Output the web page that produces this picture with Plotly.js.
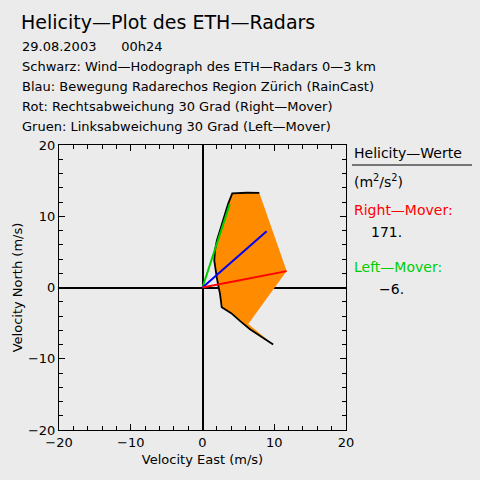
<!DOCTYPE html>
<html>
<head>
<meta charset="utf-8">
<script src="https://cdn.plot.ly/plotly-3.0.1.min.js"></script>
<style>html,body{margin:0;padding:0;background:rgb(235,235,235);}#chart{width:480px;height:480px;}</style>
</head>
<body>
<div id="chart"></div>
<script>
// Wind hodograph 0-3 km (m/s), traced from the top end to the lower end
const hodoU = [7.92, 6.2, 4.15, 3.83, 3.6, 3.37, 2.9, 2.4, 2.0, 1.74, 1.64, 1.74, 1.98, 2.2, 2.44, 2.68, 4.0, 5.3, 6.62, 8.47, 9.85];
const hodoV = [13.28, 13.3, 13.2, 12.5, 11.8, 11.1, 9.7, 7.9, 6.6, 5.2, 3.8, 2.86, 1.45, 0.28, -0.89, -2.77, -3.6, -4.75, -5.85, -7.08, -8.0];
// Storm motion vectors (m/s)
const meanMotion = [8.94, 7.89];   // Blau: RainCast
const rightMover = [11.73, 2.3];   // Rot
const leftMover = [3.8, 11.7];     // Gruen
// break point of the helicity area at the lower branch
const areaBreak = [6.38, -5.11];
// Helicity values (m2/s2)
const heliRight = 171;
const heliLeft = -6;

const titleText = "Helicity—Plot des ETH—Radars";
const infoLines = [
  "29.08.2003\u00a0\u00a0\u00a0\u00a0\u00a0\u00a000h24",
  "Schwarz: Wind—Hodograph des ETH—Radars 0—3 km",
  "Blau: Bewegung Radarechos Region Zürich (RainCast)",
  "Rot: Rechtsabweichung 30 Grad (Right—Mover)",
  "Gruen: Linksabweichung 30 Grad (Left—Mover)"
];
const xTitle = "Velocity East (m/s)";
const yTitle = "Velocity North (m/s)";
const tickVals = [-20, -10, 0, 10, 20];

const FONT = "DejaVu Sans, sans-serif";
const GREEN = "rgb(0,205,0)";

const areaU = hodoU.concat([areaBreak[0], rightMover[0]]);
const areaV = hodoV.concat([areaBreak[1], rightMover[1]]);

const traces = [
  {x: areaU, y: areaV, mode: "lines", fill: "toself", fillcolor: "rgb(255,140,0)",
   line: {width: 0, color: "rgba(0,0,0,0)"}, hoverinfo: "skip"},
  {x: hodoU, y: hodoV, mode: "lines", line: {color: "black", width: 1.8}},
  {x: [0, leftMover[0]], y: [0, leftMover[1]], mode: "lines", line: {color: GREEN, width: 2}},
  {x: [0, meanMotion[0]], y: [0, meanMotion[1]], mode: "lines", line: {color: "blue", width: 2}},
  {x: [0, rightMover[0]], y: [0, rightMover[1]], mode: "lines", line: {color: "red", width: 2}}
];

// pixel helpers for text placement (plot area: x 59..346, y 145..430)
const L = 59, R = 346, T = 145, B = 430;
const px = v => (v - L) / (R - L);
const py = v => (B - v) / (B - T);

const annotations = [];
const lineY = [46, 66, 86, 106, 126];
infoLines.forEach((t, i) => {
  annotations.push({text: t, xref: "paper", yref: "paper", x: px(20), y: py(lineY[i]),
    xanchor: "left", yanchor: "middle", showarrow: false, font: {family: FONT, size: 13, color: "black"}});
});
annotations.push({text: titleText, xref: "paper", yref: "paper", x: px(19), y: py(22),
  xanchor: "left", yanchor: "middle", showarrow: false, font: {family: FONT, size: 19, color: "black"}});
const side = [
  {t: "Helicity—Werte", x: 352, y: 153, c: "black"},
  {t: "(m<sup>2</sup>/s<sup>2</sup>)", x: 352, y: 181, c: "black"},
  {t: "Right—Mover:", x: 352, y: 210, c: "red"},
  {t: heliRight + ".", x: 369, y: 232, c: "black"},
  {t: "Left—Mover:", x: 352, y: 267, c: GREEN},
  {t: "−" + Math.abs(heliLeft) + ".", x: 377, y: 289, c: "black"}
];
side.forEach(s => annotations.push({text: s.t, xref: "paper", yref: "paper", x: px(s.x), y: py(s.y),
  xanchor: "left", yanchor: "middle", showarrow: false, font: {family: FONT, size: 14, color: s.c}}));

const axisCommon = {
  range: [-20, 20], tickvals: tickVals, ticks: "inside", ticklen: 6, tickwidth: 1, tickcolor: "black",
  showline: true, linecolor: "black", linewidth: 1, mirror: "ticks", showgrid: false,
  zeroline: true, zerolinecolor: "black", zerolinewidth: 2,
  minor: {dtick: 2, ticks: "inside", ticklen: 4, tickcolor: "black", tickwidth: 1, showgrid: false},
  layer: "above traces", tickfont: {family: FONT, size: 13, color: "black"}, fixedrange: true
};

const layout = {
  width: 480, height: 480,
  margin: {l: L, r: 480 - R, t: T, b: 480 - B, pad: 0},
  paper_bgcolor: "rgb(235,235,235)", plot_bgcolor: "rgb(235,235,235)",
  showlegend: false,
  xaxis: Object.assign({}, axisCommon, {title: {text: xTitle, font: {family: FONT, size: 13, color: "black"}, standoff: 6}}),
  yaxis: Object.assign({}, axisCommon, {title: {text: yTitle, font: {family: FONT, size: 13, color: "black"}, standoff: 2}}),
  annotations: annotations,
  shapes: [{type: "line", xref: "paper", yref: "paper", x0: px(352), x1: px(472), y0: py(165), y1: py(165),
    line: {color: "black", width: 1}}]
};

Plotly.newPlot("chart", traces, layout, {displayModeBar: false, staticPlot: true});
</script>
</body>
</html>
